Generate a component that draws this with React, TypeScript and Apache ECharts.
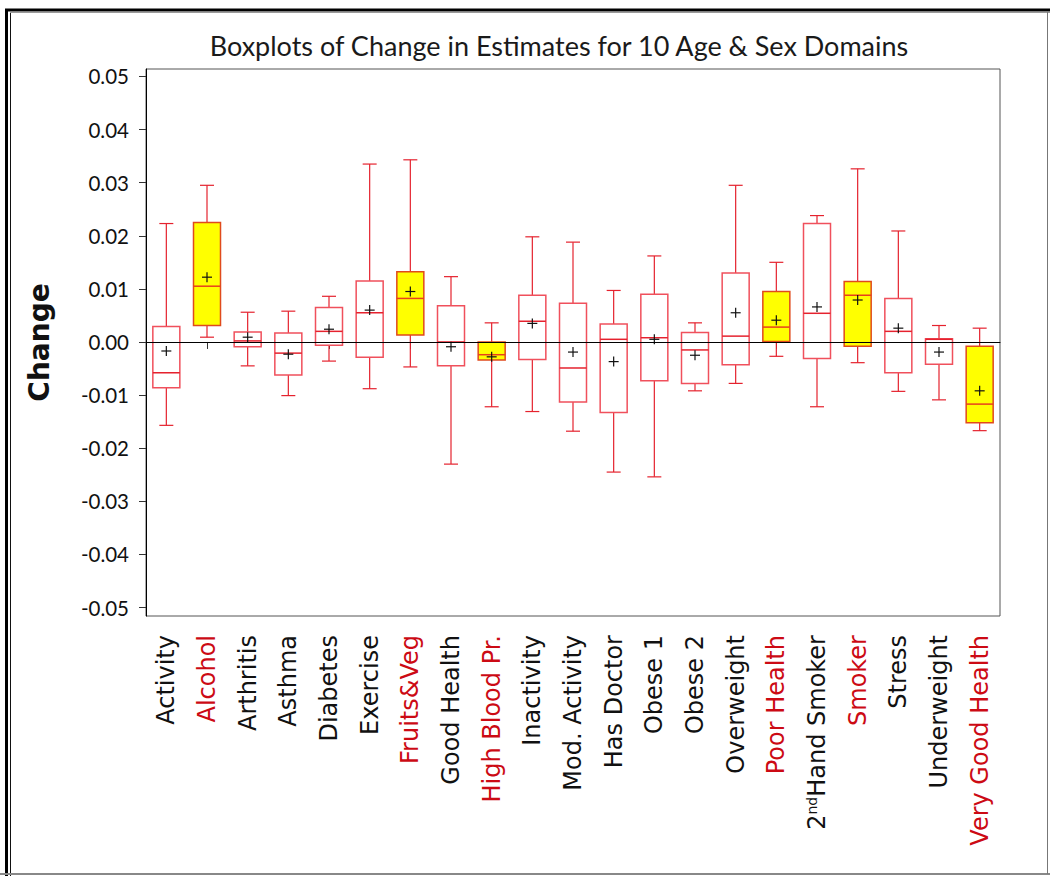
import React, { useEffect, useRef } from "react";
import * as echarts from "echarts";

const categories = [
  "Activity", "Alcohol", "Arthritis", "Asthma", "Diabetes", "Exercise", "Fruits&Veg",
  "Good Health", "High Blood Pr.", "Inactivity", "Mod. Activity", "Has Doctor", "Obese 1",
  "Obese 2", "Overweight", "Poor Health", "2nd Hand Smoker", "Smoker", "Stress",
  "Underweight", "Very Good Health",
];
const highlighted = ["Alcohol", "Fruits&Veg", "High Blood Pr.", "Poor Health", "Smoker", "Very Good Health"];

const mins = [-0.0157, 0.0009, -0.0045, -0.0101, -0.0036, -0.0088, -0.0047, -0.023, -0.0122, -0.0131, -0.0168, -0.0245, -0.0254, -0.0092, -0.0078, -0.0027, -0.0122, -0.0039, -0.0093, -0.0109, -0.0167];
const q1s = [-0.0086, 0.0031, -0.0009, -0.0062, -0.0006, -0.0029, 0.0013, -0.0045, -0.0034, -0.0033, -0.0113, -0.0133, -0.0073, -0.0078, -0.0043, 0.0001, -0.0031, -0.0008, -0.0058, -0.0042, -0.0152];
const medians = [-0.0058, 0.0105, 0.0002, -0.0021, 0.002, 0.0055, 0.0082, 0.0, -0.0024, 0.0039, -0.0049, 0.0005, 0.0008, -0.0015, 0.0011, 0.0028, 0.0054, 0.0088, 0.002, 0.0005, -0.0117];
const q3s = [0.0029, 0.0225, 0.0019, 0.0017, 0.0065, 0.0115, 0.0132, 0.0068, 0.0, 0.0088, 0.0073, 0.0034, 0.009, 0.0018, 0.013, 0.0095, 0.0223, 0.0114, 0.0082, 0.0006, -0.0008];
const maxs = [0.0223, 0.0295, 0.0056, 0.0058, 0.0086, 0.0335, 0.0343, 0.0123, 0.0036, 0.0198, 0.0188, 0.0097, 0.0162, 0.0036, 0.0295, 0.015, 0.0238, 0.0326, 0.0209, 0.0031, 0.0026];
const means = [-0.0017, 0.0122, 0.0009, -0.0023, 0.0024, 0.006, 0.0095, -0.0009, -0.0028, 0.0035, -0.0019, -0.0037, 0.0005, -0.0025, 0.0055, 0.0041, 0.0066, 0.0079, 0.0026, -0.0019, -0.0092];
const yTicks = [-0.05, -0.04, -0.03, -0.02, -0.01, 0, 0.01, 0.02, 0.03, 0.04, 0.05];

const FONT = "Lato";
const VFONT = "DejaVu Sans";

export default function App() {
  const ref = useRef<HTMLDivElement>(null);
  useEffect(() => {
    if (!ref.current) return;
    const chart = echarts.init(ref.current, undefined, { renderer: "svg" });
    const data = categories.map((c, i) => [
      i, mins[i], q1s[i], medians[i], q3s[i], maxs[i], means[i], highlighted.includes(c) ? 1 : 0,
    ]);

    const renderItem = (params: any, api: any) => {
      const idx = api.value(0);
      const vMin = api.value(1), vQ1 = api.value(2), vMed = api.value(3), vQ3 = api.value(4), vMax = api.value(5), vMean = api.value(6);
      const hl = api.value(7) === 1;
      const pMin = api.coord([idx, vMin]);
      const pQ1 = api.coord([idx, vQ1]);
      const pMed = api.coord([idx, vMed]);
      const pQ3 = api.coord([idx, vQ3]);
      const pMax = api.coord([idx, vMax]);
      const pMean = api.coord([idx, vMean]);
      const x = pMed[0];
      const hb = 13.5;
      const hc = 7;
      const whisk = { stroke: "#e5222e", lineWidth: 1.2 };
      const boxStroke = hl ? "#e04a1c" : "#f0505c";
      const medStroke = hl ? "#e8401c" : "#e5222e";
      return {
        type: "group",
        children: [
          { type: "line", shape: { x1: x, y1: pMax[1], x2: x, y2: pQ3[1] }, style: whisk },
          { type: "line", shape: { x1: x, y1: pQ1[1], x2: x, y2: pMin[1] }, style: whisk },
          { type: "line", shape: { x1: x - hc, y1: pMax[1], x2: x + hc, y2: pMax[1] }, style: whisk },
          { type: "line", shape: { x1: x - hc, y1: pMin[1], x2: x + hc, y2: pMin[1] }, style: whisk },
          {
            type: "rect",
            shape: { x: x - hb, y: pQ3[1], width: hb * 2, height: pQ1[1] - pQ3[1] },
            style: { fill: hl ? "#ffff00" : "#ffffff", stroke: boxStroke, lineWidth: 1.5 },
          },
          { type: "line", shape: { x1: x - hb, y1: pMed[1], x2: x + hb, y2: pMed[1] }, style: { stroke: medStroke, lineWidth: 1.5 } },
          { type: "line", shape: { x1: x - 5, y1: pMean[1], x2: x + 5, y2: pMean[1] }, style: { stroke: "#111", lineWidth: 1.2 } },
          { type: "line", shape: { x1: x, y1: pMean[1] - 5, x2: x, y2: pMean[1] + 5 }, style: { stroke: "#111", lineWidth: 1.2 } },
        ],
      };
    };

    const option: any = {
      animation: false,
      backgroundColor: "#ffffff",
      textStyle: { fontFamily: FONT },
      grid: { left: 146, right: 50, top: 69, bottom: 260, show: true, borderColor: "#555", borderWidth: 1, backgroundColor: "transparent" },
      graphic: [
        { type: "text", x: 559, y: 45, style: { text: "Boxplots of Change in Estimates for 10 Age & Sex Domains", font: `27px ${FONT}`, fill: "#1a1a1a", align: "center", verticalAlign: "middle" } },
        { type: "line", shape: { x1: 6.5, y1: 9, x2: 6.5, y2: 876 }, style: { stroke: "#000", lineWidth: 3 } },
        { type: "line", shape: { x1: 5, y1: 10, x2: 1050, y2: 10 }, style: { stroke: "#000", lineWidth: 3 } },
        { type: "line", shape: { x1: 10.5, y1: 12, x2: 10.5, y2: 876 }, style: { stroke: "#111", lineWidth: 1 } },
        { type: "line", shape: { x1: 10, y1: 12.5, x2: 1050, y2: 12.5 }, style: { stroke: "#999", lineWidth: 1 } },
        { type: "line", shape: { x1: 0, y1: 874, x2: 1050, y2: 874 }, style: { stroke: "#888", lineWidth: 2 } },
        { type: "line", shape: { x1: 1047.5, y1: 12, x2: 1047.5, y2: 874 }, style: { stroke: "#777", lineWidth: 1 } },
      ],
      xAxis: {
        type: "category",
        data: categories,
        axisLine: { show: true, lineStyle: { color: "#000" } },
        axisTick: { show: true, alignWithLabel: true, length: 7, lineStyle: { color: "#333" } },
        axisLabel: {
          rotate: 90,
          interval: 0,
          margin: 19,
          fontSize: 24,
          fontFamily: VFONT,
          color: "#111",
          formatter: (v: string) => {
            if (v === "2nd Hand Smoker") return "{k|2}{sup|nd}{k|Hand Smoker}";
            return highlighted.includes(v) ? `{r|${v}}` : `{k|${v}}`;
          },
          rich: {
            k: { fontSize: 24, fontFamily: VFONT, color: "#111" },
            r: { fontSize: 24, fontFamily: VFONT, color: "#cc0a14" },
            sup: { fontSize: 14, fontFamily: VFONT, color: "#111", padding: [0, 0, 10, 0] },
          },
        },
        splitLine: { show: false },
      },
      yAxis: {
        type: "value",
        min: -0.0516,
        max: 0.0514,
        name: "Change",
        nameLocation: "middle",
        nameGap: 93,
        nameTextStyle: { fontSize: 28, fontWeight: "bold", fontFamily: VFONT, color: "#111" },
        axisLine: { show: true, lineStyle: { color: "#000" } },
        axisTick: { show: true, length: 7, customValues: yTicks, lineStyle: { color: "#333" } },
        axisLabel: {
          customValues: yTicks,
          margin: 17,
          fontSize: 20.5,
          fontFamily: FONT,
          color: "#111",
          formatter: (v: number) => (Math.abs(v) < 1e-9 ? "0.00" : v.toFixed(2)),
        },
        splitLine: { show: false },
      },
      series: [
        {
          type: "custom",
          renderItem,
          data,
          encode: { x: 0, y: [1, 2, 3, 4, 5, 6] },
          markLine: {
            silent: true,
            symbol: "none",
            label: { show: false },
            lineStyle: { color: "#000", width: 1, type: "solid" },
            data: [{ yAxis: 0 }],
          },
          z: 2,
        },
      ],
    };
    chart.setOption(option);
    return () => chart.dispose();
  }, []);
  return <div ref={ref} style={{ position: "absolute", left: 0, top: 0, width: 1050, height: 876 }} />;
}
